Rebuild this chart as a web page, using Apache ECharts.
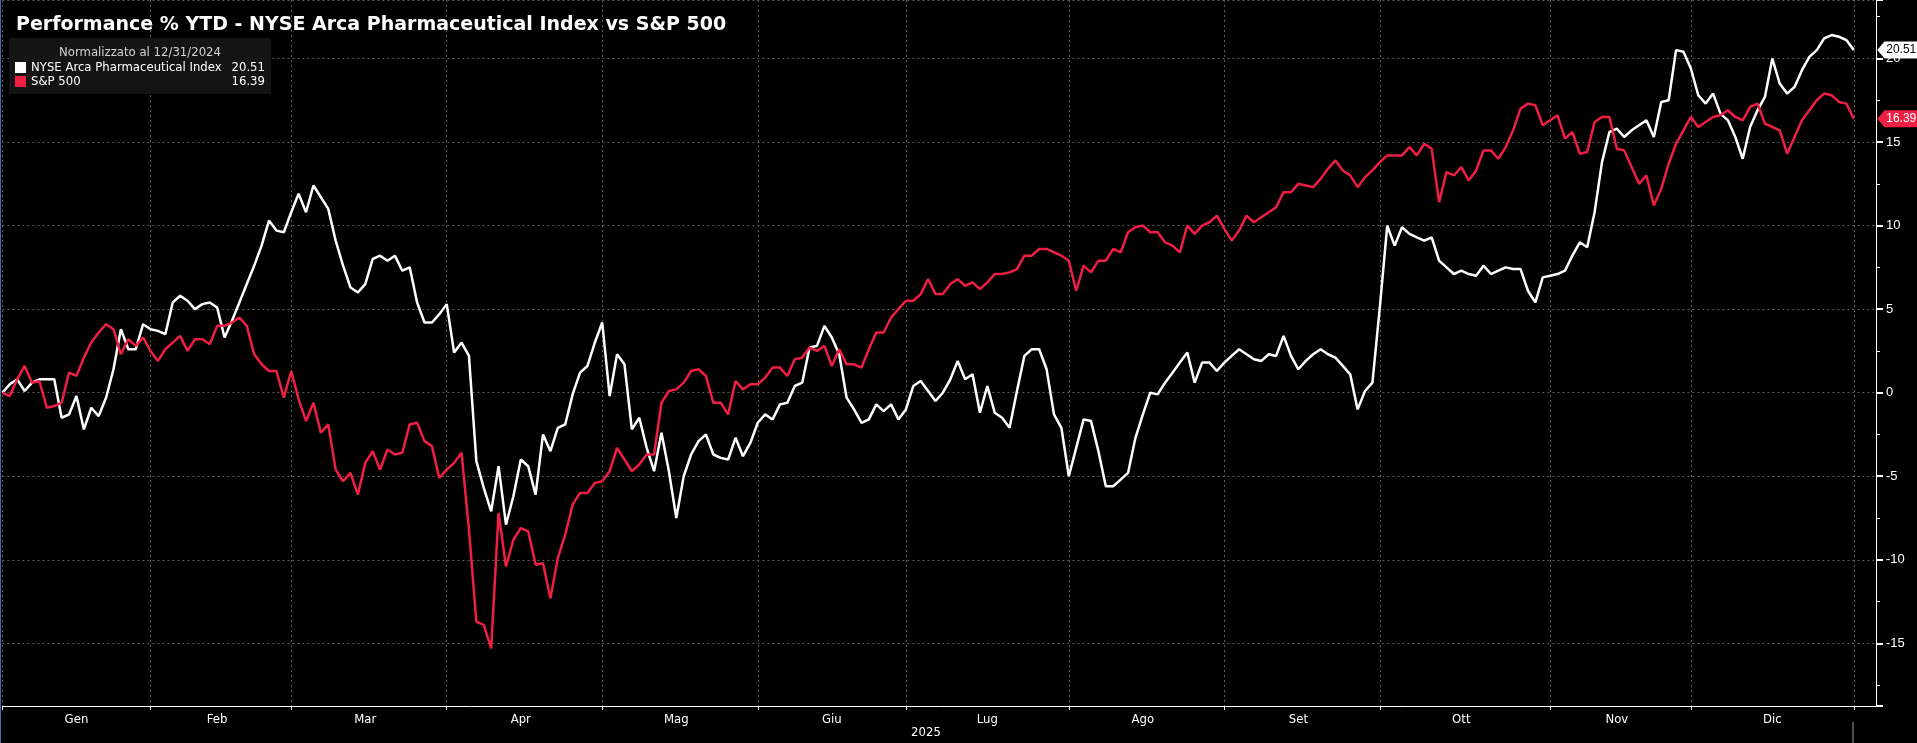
<!DOCTYPE html>
<html>
<head>
<meta charset="utf-8">
<script src="https://cdn.jsdelivr.net/npm/echarts@6/dist/echarts.min.js"></script>
<style>
html, body { margin: 0; padding: 0; background: #000; }
#chart { width: 1917px; height: 743px; }
</style>
</head>
<body>
<div id="chart"></div>
<script>
// month names and number of trading days in each month of 2025
var monthNames = ["Gen", "Feb", "Mar", "Apr", "Mag", "Giu", "Lug", "Ago", "Set", "Ott", "Nov", "Dic"];
var monthDays = [20, 19, 21, 21, 21, 20, 22, 21, 21, 23, 19, 22];
var seriesNames = ["NYSE Arca Pharmaceutical Index", "S&P 500"];
var normLabel = "Normalizzato al 12/31/2024";
var yearLabel = "2025";

// % change since 12/31/2024, one value per trading day
var pharmaValues = [
    0, 0.5, 0.8, 0.1, 0.6, 0.8, 0.8, 0.8, -1.5, -1.3,
    -0.2, -2.2, -0.9, -1.4, -0.3, 1.4, 3.8, 2.6, 2.6, 4.1,
    3.8, 3.7, 3.5, 5.4, 5.8, 5.5, 5.0, 5.3, 5.4, 5.1,
    3.3, 4.3, 5.4, 6.5, 7.6, 8.8, 10.3, 9.7, 9.6, 10.8,
    11.9, 10.8, 12.4, 11.7, 11.0, 9.1, 7.6, 6.3, 6.0, 6.5,
    8.0, 8.2, 7.9, 8.2, 7.3, 7.5, 5.4, 4.2, 4.2, 4.7,
    5.3, 2.4, 3.0, 2.2, -4.1, -5.7, -7.1, -4.4, -7.9, -6.2,
    -4.0, -4.4, -6.1, -2.5, -3.5, -2.1, -1.9, -0.1, 1.2, 1.6,
    3.0, 4.2, -0.2, 2.3, 1.7, -2.2, -1.5, -3.3, -4.7, -2.4,
    -4.7, -7.5, -5.0, -3.7, -2.9, -2.5, -3.7, -3.9, -4.0, -2.7,
    -3.8, -3.0, -1.8, -1.3, -1.6, -0.7, -0.6, 0.4, 0.6, 2.7,
    2.8, 4.0, 3.3, 2.3, -0.3, -1.0, -1.8, -1.6, -0.7, -1.1,
    -0.7, -1.6, -1.0, 0.4, 0.7, 0.1, -0.5, 0.0, 0.8, 1.9,
    0.8, 1.1, -1.2, 0.4, -1.2, -1.5, -2.1, 0.1, 2.2, 2.6,
    2.6, 1.4, -1.3, -2.1, -5.0, -3.3, -1.6, -1.7, -3.5, -5.6,
    -5.6, -5.2, -4.8, -2.7, -1.3, 0.0, -0.1, 0.6, 1.2, 1.8,
    2.4, 0.6, 1.8, 1.8, 1.3, 1.8, 2.2, 2.6, 2.3, 2.0,
    1.9, 2.3, 2.2, 3.4, 2.2, 1.4, 1.9, 2.3, 2.6, 2.3,
    2.1, 1.6, 1.1, -1.0, 0.1, 0.6, 5.1, 10.0, 8.8, 9.9,
    9.5, 9.3, 9.1, 9.3, 7.9, 7.5, 7.1, 7.3, 7.1, 7.0,
    7.6, 7.1, 7.3, 7.5, 7.4, 7.4, 6.1, 5.4, 6.9, 7.0,
    7.1, 7.3, 8.2, 9.0, 8.7, 10.8, 13.8, 15.6, 15.8, 15.3,
    15.7, 16.0, 16.3, 15.3, 17.4, 17.5, 20.5, 20.4, 19.4, 17.8,
    17.3, 17.9, 16.7, 16.3, 15.3, 14.0, 15.9, 16.9, 17.7, 20.0,
    18.5, 17.9, 18.3, 19.3, 20.1, 20.5, 21.2, 21.4, 21.3, 21.1,
    20.51
];
var spxValues = [
    0, -0.2, 0.8, 1.6, 0.6, 0.7, -0.9, -0.8, -0.6, 1.2,
    1.0, 2.1, 3.0, 3.6, 4.1, 3.8, 2.3, 3.2, 2.8, 3.3,
    2.5, 1.9, 2.6, 3.0, 3.4, 2.5, 3.2, 3.2, 2.9, 4.0,
    4.0, 4.2, 4.5, 4.0, 2.3, 1.7, 1.3, 1.3, -0.3, 1.3,
    -0.4, -1.7, -0.6, -2.4, -1.9, -4.6, -5.3, -4.8, -6.1, -4.2,
    -3.5, -4.6, -3.4, -3.7, -3.6, -1.9, -1.8, -2.9, -3.2, -5.1,
    -4.6, -4.2, -3.6, -8.2, -13.7, -13.9, -15.3, -7.2, -10.4, -8.8,
    -8.1, -8.3, -10.3, -10.2, -12.3, -9.9, -8.5, -6.7, -6.0, -6.0,
    -5.4, -5.3, -4.7, -3.3, -4.0, -4.7, -4.3, -3.7, -3.7, -0.6,
    0.1, 0.2, 0.6, 1.3, 1.4, 1.0, -0.6, -0.6, -1.3, 0.7,
    0.2, 0.5, 0.5, 0.9, 1.5, 1.5, 1.0, 2.0, 2.1, 2.7,
    2.5, 2.8, 1.6, 2.6, 1.7, 1.7, 1.5, 2.6, 3.6, 3.6,
    4.5, 5.0, 5.5, 5.5, 5.9, 6.8, 5.9, 5.9, 6.5, 6.8,
    6.4, 6.6, 6.2, 6.6, 7.1, 7.1, 7.2, 7.4, 8.2, 8.2,
    8.6, 8.6, 8.4, 8.2, 7.9, 6.1, 7.6, 7.2, 7.9, 7.9,
    8.6, 8.4, 9.6, 9.9, 10.0, 9.6, 9.6, 9.0, 8.8, 8.4,
    10.0, 9.5, 10.0, 10.2, 10.6, 9.8, 9.1, 9.7, 10.6, 10.2,
    10.5, 10.8, 11.1, 12.0, 12.0, 12.5, 12.4, 12.3, 12.8, 13.4,
    13.9, 13.3, 13.0, 12.3, 12.9, 13.3, 13.8, 14.2, 14.2, 14.2,
    14.7, 14.2, 14.9, 14.6, 11.4, 13.2, 13.0, 13.5, 12.7, 13.3,
    14.5, 14.5, 14.0, 14.7, 15.7, 17.0, 17.3, 17.2, 16.0, 16.3,
    16.6, 15.2, 15.6, 14.3, 14.4, 16.2, 16.5, 16.5, 14.6, 14.5,
    13.5, 12.5, 13.0, 11.2, 12.2, 13.7, 14.9, 15.7, 16.5, 15.9,
    16.2, 16.5, 16.6, 16.9, 16.5, 16.3, 17.1, 17.3, 16.1, 15.9,
    15.7, 14.3, 15.3, 16.3, 16.9, 17.5, 17.9, 17.8, 17.4, 17.3,
    16.39
];

var WHITE = "#ffffff";
var RED = "#ee1f42";
var GRID_COLOR = "#5c5c5c";
var NARROW = "'Liberation Sans Narrow', 'DejaVu Sans Condensed', 'Liberation Sans', sans-serif";

// categories: 12/31/2024 then each trading day, plus a few empty slots up to the axis
var categories = ["31/12/2024"];
var monthEnds = [0];      // index of last day of each month (month grid lines)
var monthMids = {};       // index where each month name is written
for (var m = 0; m < monthDays.length; m++) {
    var start = categories.length;
    for (var d = 1; d <= monthDays[m]; d++) {
        categories.push(monthNames[m] + " " + d);
    }
    var end = categories.length - 1;
    monthEnds.push(end);
    monthMids[Math.floor((start - 1 + end) / 2)] = monthNames[m];
}
categories.push("", "", "");

function lastOf(arr) { return arr[arr.length - 1]; }

function endTag(values, fill, textColor) {
    return {
        symbol: "path://M0,9 L9,0 L60,0 L60,18 L9,18 Z",
        symbolSize: [48, 17],
        symbolKeepAspect: false,
        symbolOffset: [47.5, 0],
        silent: true,
        itemStyle: {color: fill},
        label: {
            show: true,
            position: "inside",
            color: textColor,
            fontSize: 12,
            fontFamily: "'Liberation Sans', sans-serif",
            formatter: lastOf(values).toFixed(2)
        },
        data: [{coord: [values.length - 1, lastOf(values)]}]
    };
}

var option = {
    backgroundColor: "#000",
    animation: false,
    title: {
        text: "Performance % YTD - NYSE Arca Pharmaceutical Index vs S&P 500",
        left: 16,
        top: 16,
        padding: 0,
        textStyle: {color: WHITE, fontSize: 19, fontWeight: "bold", fontFamily: "'DejaVu Sans', sans-serif"}
    },
    legend: {
        orient: "vertical",
        left: 9,
        top: 38,
        padding: [23, 6, 6, 6],
        itemGap: 1,
        itemWidth: 11,
        itemHeight: 11,
        backgroundColor: "#141414",
        icon: "rect",
        data: seriesNames,
        formatter: function (name) {
            var vals = name === seriesNames[0] ? pharmaValues : spxValues;
            return "{n|" + name + "}{v|" + lastOf(vals).toFixed(2) + "}";
        },
        textStyle: {
            color: WHITE,
            fontSize: 13,
            fontFamily: NARROW,
            rich: {
                n: {width: 201, color: WHITE, fontSize: 13, fontFamily: NARROW, lineHeight: 16},
                v: {width: 33, align: "right", color: WHITE, fontSize: 13, fontFamily: NARROW, lineHeight: 16}
            }
        }
    },
    graphic: [
        {type: "rect", shape: {x: 0, y: 0, width: 1, height: 743}, style: {fill: "#3d6fa8"}, silent: true},
        {type: "rect", shape: {x: 1852.5, y: 722, width: 1, height: 21}, style: {fill: "#9a9a9a"}, silent: true},
        {
            type: "text", x: 140, y: 53, silent: true, z: 10,
            style: {text: normLabel, fill: "#d2d2d2", font: "13px " + NARROW,
                    align: "center", verticalAlign: "middle", textAlign: "center", textVerticalAlign: "middle"}
        },
        {
            type: "text", x: 926, y: 733, silent: true,
            style: {text: yearLabel, fill: WHITE, font: "13px " + NARROW,
                    align: "center", verticalAlign: "middle", textAlign: "center", textVerticalAlign: "middle"}
        }
    ],
    grid: {left: 2.4, right: 41, top: 0, bottom: 37, containLabel: false},
    xAxis: {
        type: "category",
        boundaryGap: false,
        data: categories,
        axisLine: {onZero: false, lineStyle: {color: WHITE, width: 1}},
        axisTick: {
            interval: function (idx) { return monthEnds.indexOf(idx) >= 0; },
            length: 4,
            lineStyle: {color: WHITE}
        },
        axisLabel: {
            interval: function (idx) { return monthMids[idx] !== undefined; },
            formatter: function (val, idx) { return monthMids[idx] || ""; },
            color: WHITE,
            fontSize: 13,
            fontFamily: NARROW,
            margin: 7
        },
        splitLine: {
            show: true,
            interval: function (idx) { return monthEnds.indexOf(idx) >= 0; },
            lineStyle: {color: GRID_COLOR, type: [2, 3], width: 1}
        }
    },
    yAxis: {
        type: "value",
        position: "right",
        min: -18.75,
        max: 23.5,
        splitNumber: 8,
        axisLine: {show: true, lineStyle: {color: WHITE, width: 1}},
        axisTick: {show: true, length: 7, lineStyle: {color: WHITE, width: 2}},
        minorTick: {show: true, splitNumber: 2, length: 4, lineStyle: {color: WHITE}},
        axisLabel: {
            color: WHITE,
            fontSize: 13,
            fontFamily: "'Liberation Sans', sans-serif",
            margin: 10,
            showMinLabel: false,
            showMaxLabel: false
        },
        splitLine: {show: true, lineStyle: {color: GRID_COLOR, type: [2, 3], width: 1}}
    },
    series: [
        {
            name: seriesNames[0],
            type: "line",
            data: pharmaValues,
            symbol: "none",
            lineStyle: {color: WHITE, width: 2.5},
            itemStyle: {color: WHITE},
            markPoint: endTag(pharmaValues, WHITE, "#000")
        },
        {
            name: seriesNames[1],
            type: "line",
            data: spxValues,
            symbol: "none",
            lineStyle: {color: RED, width: 2.5},
            itemStyle: {color: RED},
            markPoint: endTag(spxValues, RED, WHITE)
        }
    ]
};

var chart = echarts.init(document.getElementById("chart"));
chart.setOption(option);
</script>
</body>
</html>
